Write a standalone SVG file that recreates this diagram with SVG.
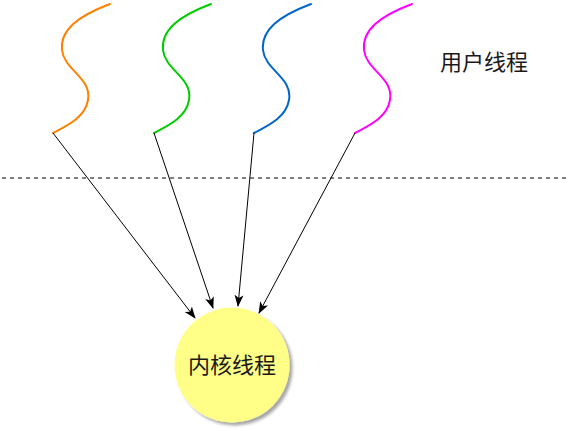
<svg xmlns="http://www.w3.org/2000/svg" width="570" height="431" viewBox="0 0 570 431">
<defs>
<style>
.wave{fill:none;stroke-width:2;stroke-linecap:round}
.conn{fill:none;stroke:#000;stroke-width:1}
.lbl{font-family:"Noto Sans CJK SC","Noto Sans",sans-serif;font-size:22px;fill:#1a1a1a}
</style>
<marker id="arr" viewBox="0 0 12 10" refX="11" refY="5" markerWidth="12" markerHeight="10" markerUnits="userSpaceOnUse" orient="auto">
<path d="M0,0.5 L12,5 L0,9.5 L3,5 Z" fill="#000"/>
</marker>
<filter id="sh" x="-20%" y="-20%" width="150%" height="150%">
<feGaussianBlur in="SourceAlpha" stdDeviation="1.5"/>
<feOffset dx="3" dy="3"/>
<feComponentTransfer><feFuncA type="linear" slope="0.35"/></feComponentTransfer>
<feMerge><feMergeNode/><feMergeNode in="SourceGraphic"/></feMerge>
</filter>
</defs>
<rect width="570" height="431" fill="#fff"/>
<line x1="2" y1="178" x2="570" y2="178" stroke="#000" stroke-width="1" stroke-dasharray="4,4"/>
<g id="user-threads">
<g id="u1"><path class="wave" stroke="#ff8000" d="M110,4 C78,16 60,30 62,50 C64,70 92,78 88,100 C85,118 66,126 53,133"/></g>
<g id="u2"><path class="wave" stroke="#00cc00" d="M211,4 C179,16 161,30 163,50 C165,70 193,78 189,100 C186,118 167,126 154,133"/></g>
<g id="u3"><path class="wave" stroke="#0066cc" d="M311,4 C279,16 261,30 263,50 C265,70 293,78 289,100 C286,118 267,126 254,133"/></g>
<g id="u4"><path class="wave" stroke="#ff00ff" d="M412,4 C380,16 362,30 364,50 C366,70 394,78 390,100 C387,118 368,126 355,133"/></g>
<text class="lbl" x="484" y="70" text-anchor="middle">用户线程</text>
</g>
<g id="kernel">
<circle cx="232" cy="365" r="57.5" fill="#ffff88" filter="url(#sh)"/>
<text class="lbl" x="232" y="373" text-anchor="middle">内核线程</text>
</g>
<g id="connectors">
<line class="conn" x1="53" y1="133" x2="195" y2="318" marker-end="url(#arr)"/>
<line class="conn" x1="154" y1="133" x2="213" y2="308" marker-end="url(#arr)"/>
<line class="conn" x1="254" y1="133" x2="238" y2="306" marker-end="url(#arr)"/>
<line class="conn" x1="355" y1="133" x2="259" y2="313" marker-end="url(#arr)"/>
</g>
</svg>
